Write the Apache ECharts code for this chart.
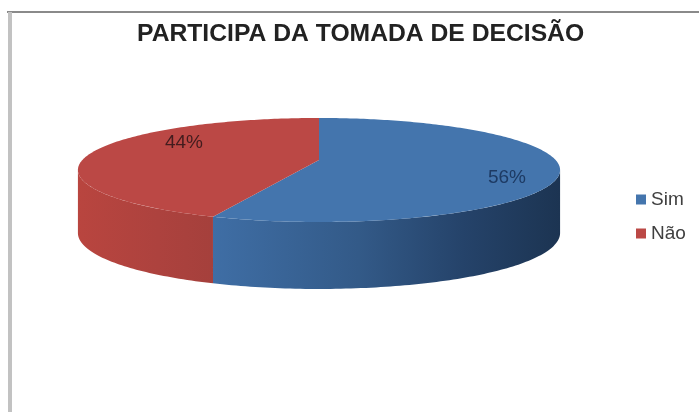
<!DOCTYPE html>
<html>
<head>
<meta charset="utf-8">
<style>html,body{margin:0;padding:0;background:#fff}#chart{width:699px;height:412px}</style>
<script src="https://cdn.jsdelivr.net/npm/echarts@6/dist/echarts.min.js"></script>
</head>
<body>
<div id="chart"></div>
<script>
const chartTitle = 'PARTICIPA DA TOMADA DE DECISÃO';
const categories = ['Sim', 'Não'];
const values = [56, 44];

// Colours per category: disc top, then the wall gradient from left to right.
const topColors = ['#4475ad', '#bb4845'];
const wallStops = [
  { x0: 212, x1: 560, stops: [[0, '#3f6ea5'], [0.42, '#335a88'], [0.72, '#25436a'], [1, '#1c3452']] },
  { x0: 77, x1: 212, stops: [[0, '#b9453f'], [0.6, '#ad423e'], [1, '#a5403c']] }
];
const labelAnchors = [[507, 178], [184, 143]];

// Disc projection: a unit circle tilted towards the viewer, with perspective.
const disc = { cx: 319, cy: 160, a: 236.6, b: 50.1, p: 0.192, depth: 62 };
const total = values.reduce((s, v) => s + v, 0);

// Turns at which the rim leaves the visible front of the disc.
const rimStart = Math.acos(-disc.p) / (2 * Math.PI);
const rimEnd = 1 - rimStart;

function project(turn, lowered) {
  const t = turn * 2 * Math.PI;
  const X = Math.sin(t), Y = -Math.cos(t);
  const k = 1 / (1 - disc.p * Y);
  const drop = lowered ? disc.depth * (1 + 0.08 * Y) : 0;
  return [disc.cx + disc.a * X * k, disc.cy + disc.b * Y * k + drop];
}

function arc(from, to, lowered) {
  const n = Math.max(2, Math.ceil((to - from) * 360));
  const pts = [];
  for (let i = 0; i <= n; i++) pts.push(project(from + (to - from) * i / n, lowered));
  return pts;
}

function sliceRenderer(index) {
  return function (params, api) {
    const before = values.slice(0, index).reduce((s, v) => s + v, 0);
    const from = before / total;
    const to = (before + api.value(0)) / total;
    const wallFrom = Math.max(from, rimStart);
    const wallTo = Math.min(to, rimEnd);
    const g = wallStops[index];
    return {
      type: 'group',
      children: [
        {
          type: 'polygon', z2: 1, silent: true,
          shape: { points: arc(wallFrom, wallTo, false).concat(arc(wallFrom, wallTo, true).reverse()) },
          style: {
            fill: {
              type: 'linear', global: true, x: g.x0, y: 0, x2: g.x1, y2: 0,
              colorStops: g.stops.map(s => ({ offset: s[0], color: s[1] }))
            }
          }
        },
        {
          type: 'polygon', z2: 2, silent: true,
          shape: { points: [[disc.cx, disc.cy]].concat(arc(from, to, false)) },
          style: { fill: topColors[index] }
        },
        {
          type: 'text', z2: 3, silent: true,
          style: {
            x: labelAnchors[index][0], y: labelAnchors[index][1],
            text: Math.round(api.value(0) / total * 100) + '%',
            align: 'center', verticalAlign: 'middle',
            font: '19px "Liberation Sans", Arial, sans-serif',
            fill: index === 0 ? '#1d3a63' : '#421c1e'
          }
        }
      ]
    };
  };
}

const chart = echarts.init(document.getElementById('chart'), null, { renderer: 'canvas' });
chart.setOption({
  animation: false,
  backgroundColor: '#ffffff',
  title: {
    text: chartTitle,
    left: 137,
    top: 22,
    padding: 0,
    textStyle: {
      fontFamily: '"Liberation Sans", Arial, sans-serif',
      fontSize: 24.7, fontWeight: 'bold', color: '#222222'
    }
  },
  legend: {
    data: categories,
    orient: 'vertical',
    left: 636,
    top: 190,
    padding: 0,
    icon: 'rect',
    itemWidth: 10,
    itemHeight: 10,
    itemGap: 15,
    selectedMode: false,
    textStyle: {
      fontFamily: '"Liberation Sans", Arial, sans-serif',
      fontSize: 19, color: '#404040'
    }
  },
  graphic: [
    { type: 'rect', silent: true, shape: { x: 7, y: 11, width: 692, height: 2 }, style: { fill: '#8a8a8a' } },
    { type: 'rect', silent: true, shape: { x: 8, y: 12, width: 4, height: 400 }, style: { fill: '#c2c2c2' } }
  ],
  series: categories.map((name, i) => ({
    type: 'custom',
    name,
    coordinateSystem: 'none',
    itemStyle: { color: topColors[i] },
    renderItem: sliceRenderer(i),
    data: [[values[i]]]
  }))
});
</script>
</body>
</html>
